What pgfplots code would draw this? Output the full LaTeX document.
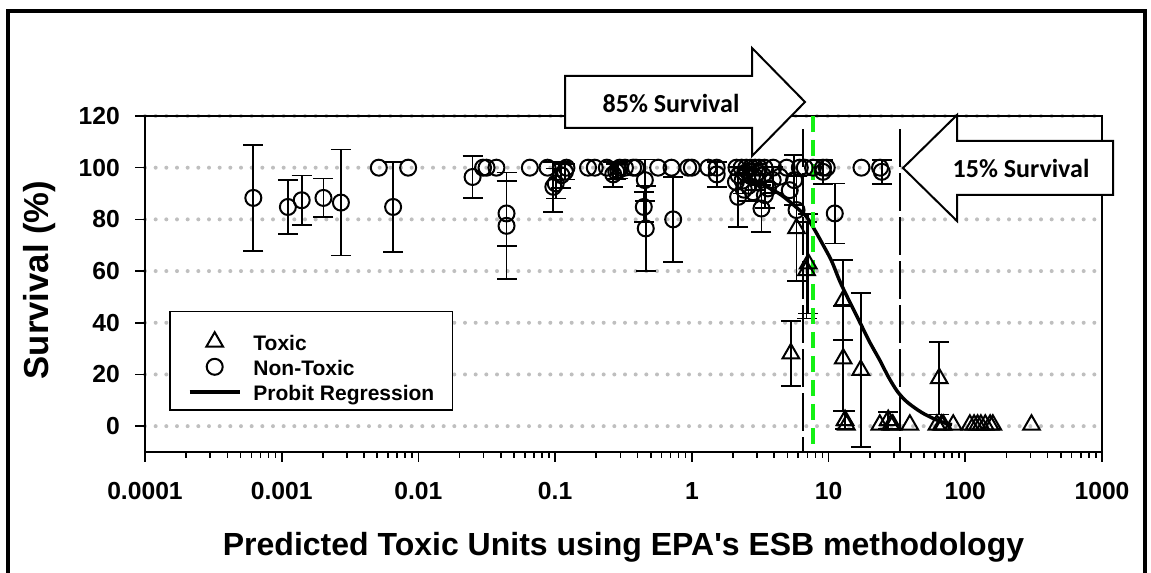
\documentclass[border=0pt]{standalone}
\usepackage{pgfplots}
\usepackage{pgfplotstable}
\pgfplotsset{compat=1.18}
\usepackage{fontspec}
\setmainfont{Liberation Sans}
\newfontfamily\calibri{Carlito}

\pgfplotstableread{
x y e
6.2e-4 88.3 20.4
1.11e-3 84.8 10.5
1.40e-3 87.4 9.6
2.02e-3 88.3 7.5
2.71e-3 86.5 20.5
6.53e-3 84.8 17.5
0.0249 96.4 8.1
0.0441 82.3 12.6
0.0441 77.5 20.6
0.097 92.6 9.7
0.101 93.9 5.8
0.111 97.1 5.1
0.118 98.4 3.0
0.266 97.4 4.8
0.280 98.5 3.0
0.290 99.0 3.2
0.453 95.2 8.0
0.445 84.8 5.8
0.460 76.5 16.5
0.73 80.0 16.4
1.52 97.4 4.8
2.18 88.7 11.6
2.35 95.0 5.0
2.6 93.0 6.0
2.9 96.5 5.0
3.23 84.2 9.0
3.42 89.4 5.0
3.9 95.2 5.0
5.6 95.2 9.6
9.1 98.4 4.6
11.1 82.3 11.6
24.5 98.4 4.6
}\ntoxerr

\pgfplotstableread{
x y
5.13e-3 100
8.41e-3 100
0.0297 100
0.0315 100
0.0372 100
0.0653 100
0.088 100
0.121 100
0.174 100
0.195 100
0.239 100
0.297 100
0.324 100
0.372 100
0.39 100
0.567 100
0.71 100
0.94 100
1.0 100
1.32 100
1.52 100
2.12 100
2.31 100
2.5 100
2.7 100
2.9 100
3.1 100
3.4 100
3.93 100
4.94 100
6.16 100
6.7 100
7.7 100
9.1 100
9.7 100
17.4 100
23.8 100
2.2 97
2.45 98
2.75 96.5
3.0 98
3.3 97
2.1 94.5
2.4 91.5
2.8 90.5
3.6 92
4.4 96.5
5.2 91.3
5.83 83.6
}\ntoxnoerr

\pgfplotstableread{
x y e
5.3 28.1 12.5
5.83 76.5 20.3
7.1 62.9 19.3
6.9 60.3 18.6
12.8 48.7 15.5
12.8 26.1 20.3
13.2 2.3 3.5
17.2 21.7 29.7
27.3 2.3 3.2
64.5 18.5 14
}\toxerr

\pgfplotstableread{
x y
13.5 0.5
23.7 0.5
28.5 0.5
29.5 0.5
39.3 0.5
62 0.5
67 0.5
69 0.5
81.6 0.5
108 0.5
116 0.5
123 0.5
130 0.5
140 0.5
152 0.5
159 0.5
305 0.5
}\toxnoerr

\begin{document}
\begin{tikzpicture}
\useasboundingbox (0,0) rectangle (863.25pt,429.75pt);
\begin{axis}[
  at={(108.75pt,90.75pt)}, anchor=south west,
  scale only axis, width=717.75pt, height=252pt,
  xmode=log, xmin=1e-4, xmax=1000, ymin=-10, ymax=120,
  xtick={1e-4,1e-3,0.01,0.1,1,10,100,1000},
  xticklabels={0.0001,0.001,0.01,0.1,1,10,100,1000},
  minor xtick={2e-4,3e-4,4e-4,5e-4,6e-4,7e-4,8e-4,9e-4,
    2e-3,3e-3,4e-3,5e-3,6e-3,7e-3,8e-3,9e-3,
    0.02,0.03,0.04,0.05,0.06,0.07,0.08,0.09,
    0.2,0.3,0.4,0.5,0.6,0.7,0.8,0.9,
    2,3,4,5,6,7,8,9,20,30,40,50,60,70,80,90,
    200,300,400,500,600,700,800,900},
  ytick={0,20,40,60,80,100,120},
  tick align=outside, xtick pos=bottom, ytick pos=left,
  major tick length=7.5pt, minor tick length=4.5pt,
  tick style={black, line width=1.2pt},
  axis line style={line width=1.2pt},
  ymajorgrids,
  grid style={black!25, line width=3pt, dash pattern=on 0pt off 8pt, line cap=round},
  /pgf/number format/assume math mode=true,
  ticklabel style={font=\bfseries\fontsize{18.5}{20}\selectfont, inner sep=0pt},
  xticklabel style={yshift=-15pt},
  yticklabel style={xshift=-11.25pt},
  legend style={at={(rel axis cs:0.0449,0.3565)}, anchor=north west,
    draw=none, fill=none, inner sep=0pt, outer sep=0pt,
    row sep=5.25pt, column sep=9pt,
    font=\bfseries\fontsize{15.75}{18}\selectfont,
    nodes={inner sep=0pt, text height=13.5pt, text depth=0pt}},
  legend cell align=left,
  error bars/error mark=-,
  error bars/error bar style={line width=1.3pt},
  error bars/error mark options={rotate=90, line width=1.3pt, mark size=7.5pt},
]
\draw[line width=1.2pt, fill=white] (rel axis cs:0.02612,0.4176) rectangle (rel axis cs:0.3215,0.125);

\addplot[forget plot, black, only marks, mark=o, mark size=6pt, mark options={line width=1.5pt},
  error bars/.cd, y dir=both, y explicit]
  table[x=x, y=y, y error=e] {\ntoxerr};
\addplot[forget plot, black, only marks, mark=o, mark size=6pt, mark options={line width=1.5pt}]
  table[x=x, y=y] {\ntoxnoerr};
\addplot[forget plot, black, only marks, mark=triangle, mark size=7.2pt, mark options={line width=1.5pt},
  error bars/.cd, y dir=both, y explicit]
  table[x=x, y=y, y error=e] {\toxerr};
\addplot[forget plot, black, only marks, mark=triangle, mark size=7.2pt, mark options={line width=1.5pt}]
  table[x=x, y=y] {\toxnoerr};
\addplot[forget plot, black, smooth, line width=2.6pt] coordinates {
  (2.24,95.0) (2.6,94.7) (3.14,94.0) (3.72,92.0) (4.4,89.8) (5.21,86.8)
  (6.0,84) (6.9,81) (8.0,75.5) (9.14,70) (10.5,64) (12.1,56) (14.3,48)
  (16.9,40.3) (20,32.5) (23.7,25.5) (27.3,19.2) (31.4,13.9) (36,10.2)
  (41.6,7.5) (49,5) (58.2,3.0) (66,1.8) (73,1.0) (80,0.6)};
\addplot[forget plot, black, line width=1.1pt, dash pattern=on 28pt off 5pt] coordinates {(6.5,114.9) (6.5,-10)};
\addplot[forget plot, black, line width=1.1pt, dash pattern=on 28pt off 5pt] coordinates {(33.4,114.9) (33.4,-10)};
\addplot[forget plot, color={rgb,255:red,20;green,240;blue,20}, line width=2.6pt, dash pattern=on 12pt off 6pt] coordinates {(7.68,120) (7.68,-10)};

\addlegendimage{black, only marks, mark=triangle, mark size=7.2pt, mark options={line width=1.5pt},
  legend image code/.code={\path (0pt,0pt) (37.5pt,0pt); \draw[mark repeat=2,mark phase=2] plot coordinates {(0pt,0pt) (18.75pt,0pt) (37.5pt,0pt)};}}
\addlegendentry{Toxic}
\addlegendimage{black, only marks, mark=o, mark size=6pt, mark options={line width=1.5pt},
  legend image code/.code={\path (0pt,0pt) (37.5pt,0pt); \draw[mark repeat=2,mark phase=2] plot coordinates {(0pt,0pt) (18.75pt,0pt) (37.5pt,0pt)};}}
\addlegendentry{Non-Toxic}
\addlegendimage{black, line width=2.6pt,
  legend image code/.code={\draw (0pt,0pt) -- (37.5pt,0pt);}}
\addlegendentry{Probit Regression}
\end{axis}

\begin{scope}[x=0.75pt, y=-0.75pt, yshift=429.75pt]
  \draw[line width=1.5pt, fill=white, line join=miter]
    (565,76) -- (752,76) -- (752,48) -- (805,102) -- (752,156) -- (752,128) -- (565,128) -- cycle;
  \node[font=\calibri\bfseries\fontsize{19.5}{22}\selectfont] at (671,103) {85\% Survival};
  \draw[line width=1.5pt, fill=white, line join=miter]
    (1113,141) -- (957,141) -- (957,115) -- (903,168) -- (957,221) -- (957,195) -- (1113,195) -- cycle;
  \node[font=\calibri\bfseries\fontsize{19.5}{22}\selectfont] at (1021,168) {15\% Survival};
  \node[font=\bfseries\fontsize{24}{28}\selectfont] at (623.5,547) {Predicted Toxic Units using EPA\textquotesingle s ESB methodology};
  \node[font=\bfseries\fontsize{26}{30}\selectfont, rotate=90] at (40,280) {Survival (\%)};
  \draw[line width=3pt] (7.5,600) -- (7.5,11.5) -- (1145,11.5) -- (1145,600);
\end{scope}
\end{tikzpicture}
\end{document}
